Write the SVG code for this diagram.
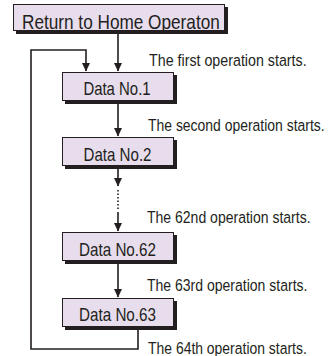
<svg xmlns="http://www.w3.org/2000/svg" width="331" height="356" viewBox="0 0 331 356">
<style>
.box{fill:#E7DDEC;stroke:#231F20;stroke-width:1}
.sh{fill:#231F20}
.t{font-family:"Liberation Sans",Arial,sans-serif;fill:#231F20}
.d{font-size:18px;text-anchor:middle}
.l{font-size:16.5px}
.c{fill:none;stroke:#231F20;stroke-width:1.6}
</style>
<defs>
<marker id="ah" markerUnits="userSpaceOnUse" markerWidth="9" markerHeight="9" viewBox="0 0 9 9" refX="8" refY="4.5" orient="auto">
<path d="M0,0.5 L8.5,4.5 L0,8.5 Z" fill="#231F20"/>
</marker>
</defs>
<rect width="331" height="356" fill="#fff"/>
<g id="connectors">
<path class="c" d="M118,34 V71" marker-end="url(#ah)"/>
<path class="c" d="M138,330 V349 H31 V50 H86 V71" marker-end="url(#ah)"/>
<path class="c" d="M118,103 V136" marker-end="url(#ah)"/>
<path class="c" d="M118,169 V186" marker-end="url(#ah)"/>
<path class="c" d="M118,190 V210" stroke-dasharray="1.5,2"/>
<path class="c" d="M118,212 V231" marker-end="url(#ah)"/>
<path class="c" d="M118,263 V297" marker-end="url(#ah)"/>
</g>
<g id="home">
<rect class="sh" x="16" y="7" width="212" height="27"/>
<rect class="box" x="13.5" y="4.5" width="211" height="26"/>
<text class="t" transform="matrix(0.86 0 0 1 22 28.5)" font-size="20">Return to Home Operaton</text>
</g>
<g id="data1">
<rect class="sh" x="65" y="75" width="112" height="29"/>
<rect class="box" x="62.5" y="72.5" width="111" height="28"/>
<text class="t d" transform="matrix(0.83 0 0 1 117 94.5)">Data No.1</text>
</g>
<g id="data2">
<rect class="sh" x="65" y="140" width="112" height="29"/>
<rect class="box" x="62.5" y="137.5" width="111" height="28"/>
<text class="t d" transform="matrix(0.84 0 0 1 117.5 160.5)">Data No.2</text>
</g>
<g id="data62">
<rect class="sh" x="65" y="235" width="112" height="29"/>
<rect class="box" x="62.5" y="232.5" width="111" height="28"/>
<text class="t d" transform="matrix(0.845 0 0 1 117.5 255.5)">Data No.62</text>
</g>
<g id="data63">
<rect class="sh" x="65" y="301" width="112" height="29"/>
<rect class="box" x="62.5" y="298.5" width="111" height="28"/>
<text class="t d" transform="matrix(0.845 0 0 1 117.5 320.5)">Data No.63</text>
</g>
<g id="labels">
<text class="t l" transform="matrix(0.865 0 0 1 149 65.5)">The first operation starts.</text>
<text class="t l" transform="matrix(0.845 0 0 1 148 130.5)">The second operation starts.</text>
<text class="t l" transform="matrix(0.85 0 0 1 147 223)">The 62nd operation starts.</text>
<text class="t l" transform="matrix(0.85 0 0 1 147 290.5)">The 63rd operation starts.</text>
<text class="t l" transform="matrix(0.845 0 0 1 148 354)">The 64th operation starts.</text>
</g>
</svg>
